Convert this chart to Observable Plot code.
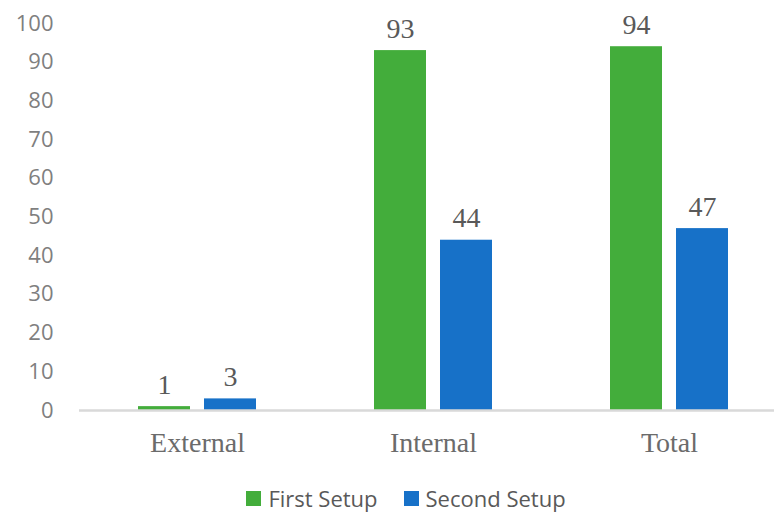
<!DOCTYPE html>
<html><head><meta charset="utf-8">
<script src="https://cdn.jsdelivr.net/npm/d3@7"></script>
<script src="https://cdn.jsdelivr.net/npm/@observablehq/plot@0.6"></script>
<style>
body{margin:0;background:#fff;}
#legend{display:flex;justify-content:center;align-items:center;font-family:"Open Sans",sans-serif;font-size:22px;color:#595959;height:56px;margin-left:38px;}
#legend .item{display:flex;align-items:center;margin:0 13px;}
#legend .sw{width:15px;height:15px;margin-right:7px;}
</style>
</head><body>
<div id="chart"></div>
<script>
const categories = ["External", "Internal", "Total"];
const series = ["First Setup", "Second Setup"];
const firstSetup = [1, 93, 94];
const secondSetup = [3, 44, 47];
const colors = ["#43ad3b", "#1771c8"];
const yTicks = [0,10,20,30,40,50,60,70,80,90,100];

const data = [];
categories.forEach((c,i)=>{
  data.push({cat:c, s:series[0], v:firstSetup[i]});
  data.push({cat:c, s:series[1], v:secondSetup[i]});
});

const chart = Plot.plot({
  width: 774, height: 470,
  marginLeft: 79, marginRight: -13, marginTop: 23, marginBottom: 60,
  style: {background: "#fff"},
  fx: {domain: categories, padding: 0, label: null, axis: null},
  x: {domain: series, paddingInner: 0.209, paddingOuter: 0.866, axis: null},
  y: {domain: [0, 100], ticks: yTicks, label: null},
  color: {domain: series, range: colors},
  marks: [
    Plot.axisY({ticks: yTicks, tickSize: 0, tickPadding: 26, label: null,
      fontSize: 22, fontFamily: "Open Sans", fill: "#7f7f7f"}),
    Plot.barY(data, {fx: "cat", x: "s", y: "v", fill: "s"}),
    Plot.text(data, {fx: "cat", x: "s", y: "v", text: d => String(d.v), dy: -22,
      fontSize: 28, fontFamily: "Liberation Serif", fill: "#595959"}),
    Plot.axisFx({anchor: "bottom", tickSize: 0, tickPadding: 22, label: null, fontSize: 28,
      fontFamily: "Liberation Serif", fill: "#6b6b6b"}),
    Plot.ruleY([0], {stroke: "#d9d9d9", strokeWidth: 2.5})
  ]
});
document.getElementById("chart").append(chart);

const leg = document.createElement("div");
leg.id = "legend";
series.forEach((s,i)=>{
  const it = document.createElement("div"); it.className = "item";
  const sw = document.createElement("div"); sw.className = "sw"; sw.style.background = colors[i];
  const t = document.createElement("span"); t.textContent = s;
  it.append(sw, t); leg.append(it);
});
document.body.append(leg);
</script>
</body></html>
